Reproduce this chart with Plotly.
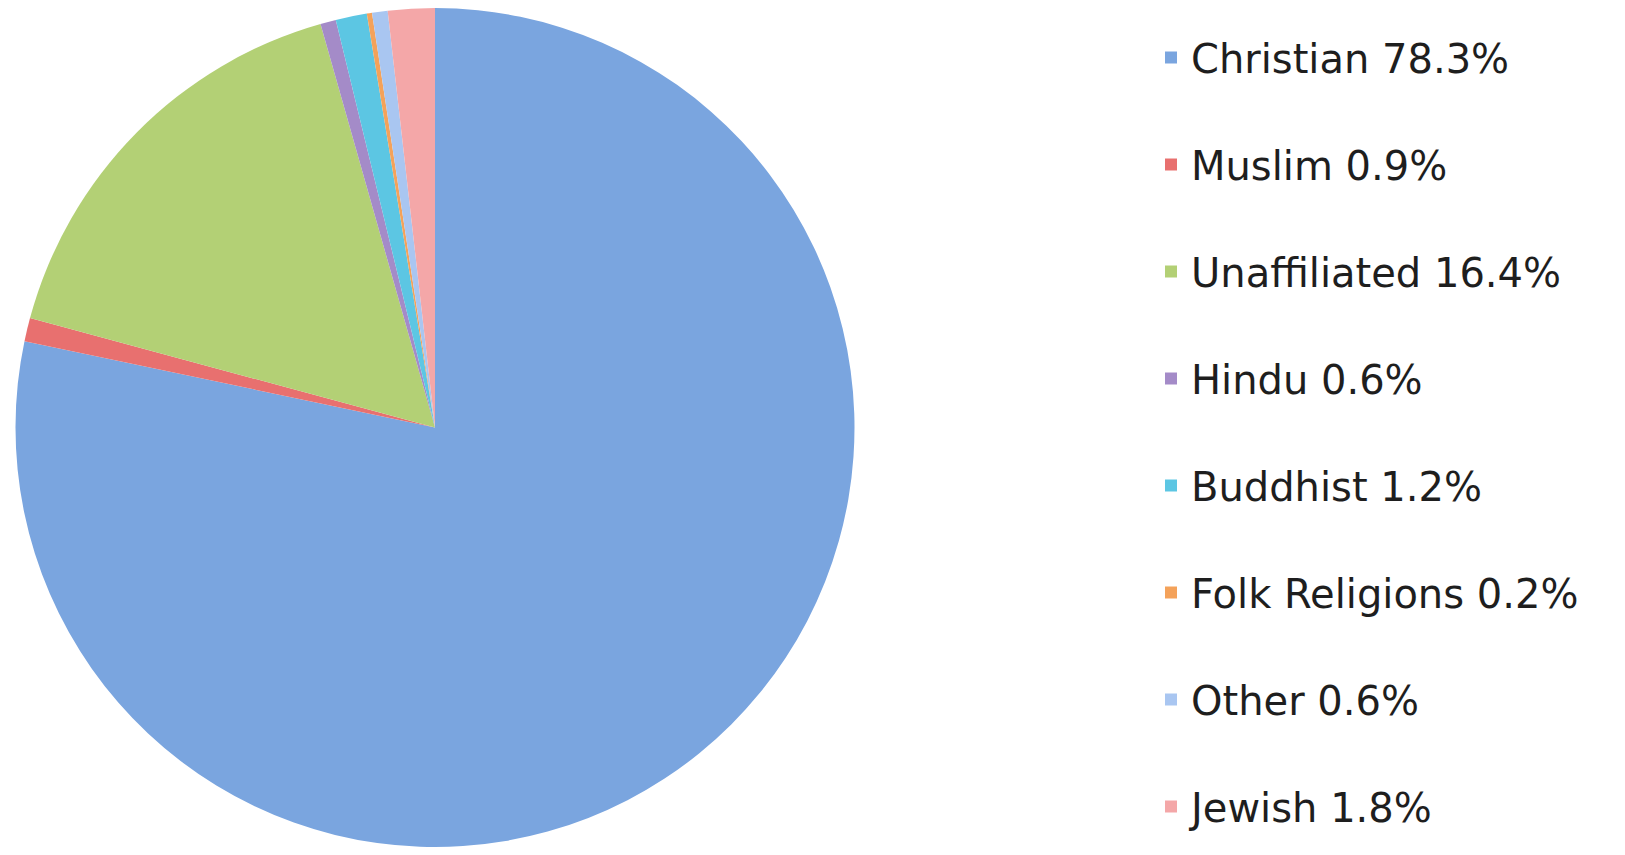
import plotly.graph_objects as go

labels = ["Christian 78.3%", "Muslim 0.9%", "Unaffiliated 16.4%", "Hindu 0.6%",
          "Buddhist 1.2%", "Folk Religions 0.2%", "Other 0.6%", "Jewish 1.8%"]
values = [78.3, 0.9, 16.4, 0.6, 1.2, 0.2, 0.6, 1.8]
colors = ["#7AA5DF", "#E8706F", "#B3D075", "#A48BC8", "#5CC6E3", "#F4A25A", "#A9C6F1", "#F4A7A8"]

W, H = 1625, 855
OFF = 8  # page body margin offset
cx, r = 435 - OFF, 420
bottom = 427 - OFF + r

# a blank second line gives each legend entry the tall spacing of the reference
legend_labels = [l + "<br>&nbsp;" for l in labels[:-1]] + [labels[-1]]

fig = go.Figure(go.Pie(
    labels=legend_labels,
    values=values,
    sort=False,
    direction="clockwise",
    rotation=0,
    textinfo="none",
    marker=dict(colors=colors, line=dict(width=0)),
    domain=dict(x=[(cx - r) / W, (cx + r) / W], y=[max(0, 1 - bottom / H), 1]),
    hovertemplate="%{label}<extra></extra>",
))

fig.update_layout(
    width=W, height=H,
    margin=dict(l=0, r=0, t=0, b=0),
    paper_bgcolor="white",
    plot_bgcolor="white",
    showlegend=True,
    legend=dict(
        x=1143 / W, xanchor="left",
        y=1 - 17 / H, yanchor="top",
        valign="top",
        font=dict(family="DejaVu Sans, sans-serif", size=40, color="#1e1e1e"),
        bgcolor="rgba(0,0,0,0)",
        borderwidth=0,
    ),
)

fig.write_html("out.html")
